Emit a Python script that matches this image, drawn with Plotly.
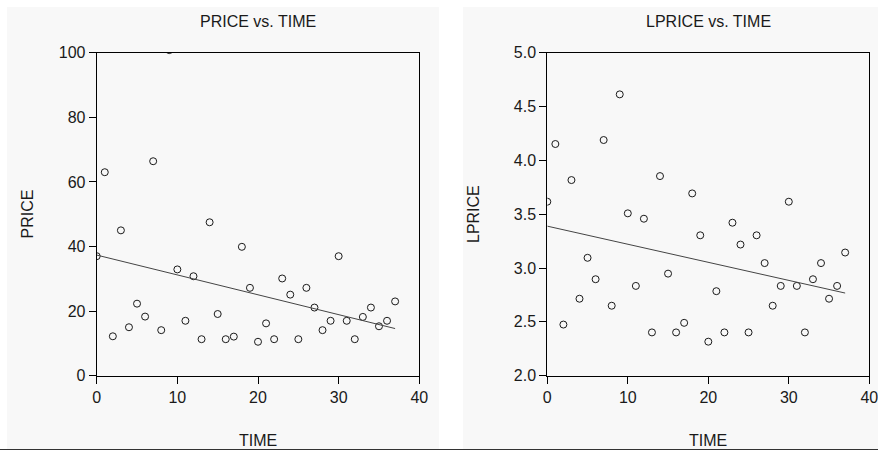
import numpy as np
import plotly.graph_objects as go

# ---- data ----
time = list(range(38))
price = [37.0, 63.0, 12.2, 45.0, 15.0, 22.3, 18.3, 66.4, 14.1, 100.8,
         32.9, 17.0, 30.8, 11.3, 47.5, 19.1, 11.3, 12.1, 39.9, 27.2,
         10.5, 16.2, 11.3, 30.1, 25.1, 11.3, 27.2, 21.1, 14.1, 17.0,
         37.0, 17.0, 11.3, 18.2, 21.1, 15.3, 17.0, 23.0]
lprice = [3.616, 4.152, 2.475, 3.817, 2.715, 3.095, 2.896, 4.189, 2.650, 4.613,
          3.508, 2.834, 3.458, 2.402, 3.854, 2.948, 2.402, 2.491, 3.693, 3.304,
          2.316, 2.785, 2.402, 3.421, 3.218, 2.402, 3.304, 3.046, 2.650, 2.834,
          3.616, 2.834, 2.402, 2.896, 3.046, 2.715, 2.834, 3.144]
titles = ["PRICE vs. TIME", "LPRICE vs. TIME"]
ytitles = ["PRICE", "LPRICE"]
xtitle = "TIME"

W, H = 878, 450
def px(x):
    return x / W
def py(y):
    return 1 - y / H

FONT = "Arial, Liberation Sans, sans-serif"
INK = "#1a1a1a"

fig = go.Figure()

def fit(x, y):
    b, a = np.polyfit(x, y, 1)
    xs = [min(x), max(x)]
    return xs, [a + b * v for v in xs]

for i, (ys, xa, ya) in enumerate([(price, "x", "y"), (lprice, "x2", "y2")]):
    fig.add_trace(go.Scatter(
        x=time, y=ys, mode="markers", xaxis=xa, yaxis=ya,
        marker=dict(symbol="circle-open", size=7, color=INK, line=dict(width=1, color=INK)),
        cliponaxis=True, showlegend=False, hoverinfo="skip"))
    lx, ly = fit(time, ys)
    fig.add_trace(go.Scatter(
        x=lx, y=ly, mode="lines", xaxis=xa, yaxis=ya,
        line=dict(color="#444444", width=1), showlegend=False, hoverinfo="skip"))

ydom = [py(375.7), py(52.7)]
xdom1 = [px(96.7), px(419.3)]
xdom2 = [px(547.3), px(869.3)]

axcommon = dict(showline=True, linecolor="black", linewidth=1, mirror=True,
                ticks="outside", ticklen=7, tickcolor="black", tickwidth=1,
                showgrid=False, zeroline=False, automargin=False,
                ticklabeloverflow="allow",
                tickfont=dict(family=FONT, size=16, color=INK))

fig.update_layout(
    width=W, height=H, margin=dict(l=0, r=0, t=0, b=0, autoexpand=False),
    paper_bgcolor="white", plot_bgcolor="white",
    xaxis=dict(domain=xdom1, anchor="y", range=[0, 40], tickvals=[0, 10, 20, 30, 40], **axcommon),
    yaxis=dict(domain=ydom, anchor="x", range=[0, 100], tickvals=[0, 20, 40, 60, 80, 100], **axcommon),
    xaxis2=dict(domain=xdom2, anchor="y2", range=[0, 40], tickvals=[0, 10, 20, 30, 40], **axcommon),
    yaxis2=dict(domain=ydom, anchor="x2", range=[2.0, 5.0], tickvals=[2.0, 2.5, 3.0, 3.5, 4.0, 4.5, 5.0],
                tickformat=".1f", **axcommon),
)

panel = "#f8f8f8"
fig.add_shape(type="rect", xref="paper", yref="paper", x0=px(7), x1=px(439), y0=py(449), y1=py(7),
              fillcolor=panel, line=dict(width=0), layer="below")
fig.add_shape(type="rect", xref="paper", yref="paper", x0=px(463), x1=1, y0=py(449), y1=py(7),
              fillcolor=panel, line=dict(width=0), layer="below")
fig.add_shape(type="line", xref="paper", yref="paper", x0=0, x1=1, y0=py(449.5), y1=py(449.5),
              line=dict(color="#333333", width=1))

centers = [(xdom1[0] + xdom1[1]) / 2, (xdom2[0] + xdom2[1]) / 2]
ylab_x = [px(27.5), px(474)]
for i in range(2):
    fig.add_annotation(text=titles[i], xref="paper", yref="paper", x=centers[i], y=py(21.7),
                       xanchor="center", yanchor="middle", showarrow=False,
                       font=dict(family=FONT, size=16, color=INK))
    fig.add_annotation(text=xtitle, xref="paper", yref="paper", x=centers[i], y=py(440.5),
                       xanchor="center", yanchor="middle", showarrow=False,
                       font=dict(family=FONT, size=16, color=INK))
    fig.add_annotation(text=ytitles[i], xref="paper", yref="paper", x=ylab_x[i], y=py(214),
                       xanchor="center", yanchor="middle", showarrow=False, textangle=-90,
                       font=dict(family=FONT, size=16, color=INK))

fig.write_html("out.html", config={"displayModeBar": False},
               post_script="document.body.style.margin='0';document.body.style.overflow='hidden';")
